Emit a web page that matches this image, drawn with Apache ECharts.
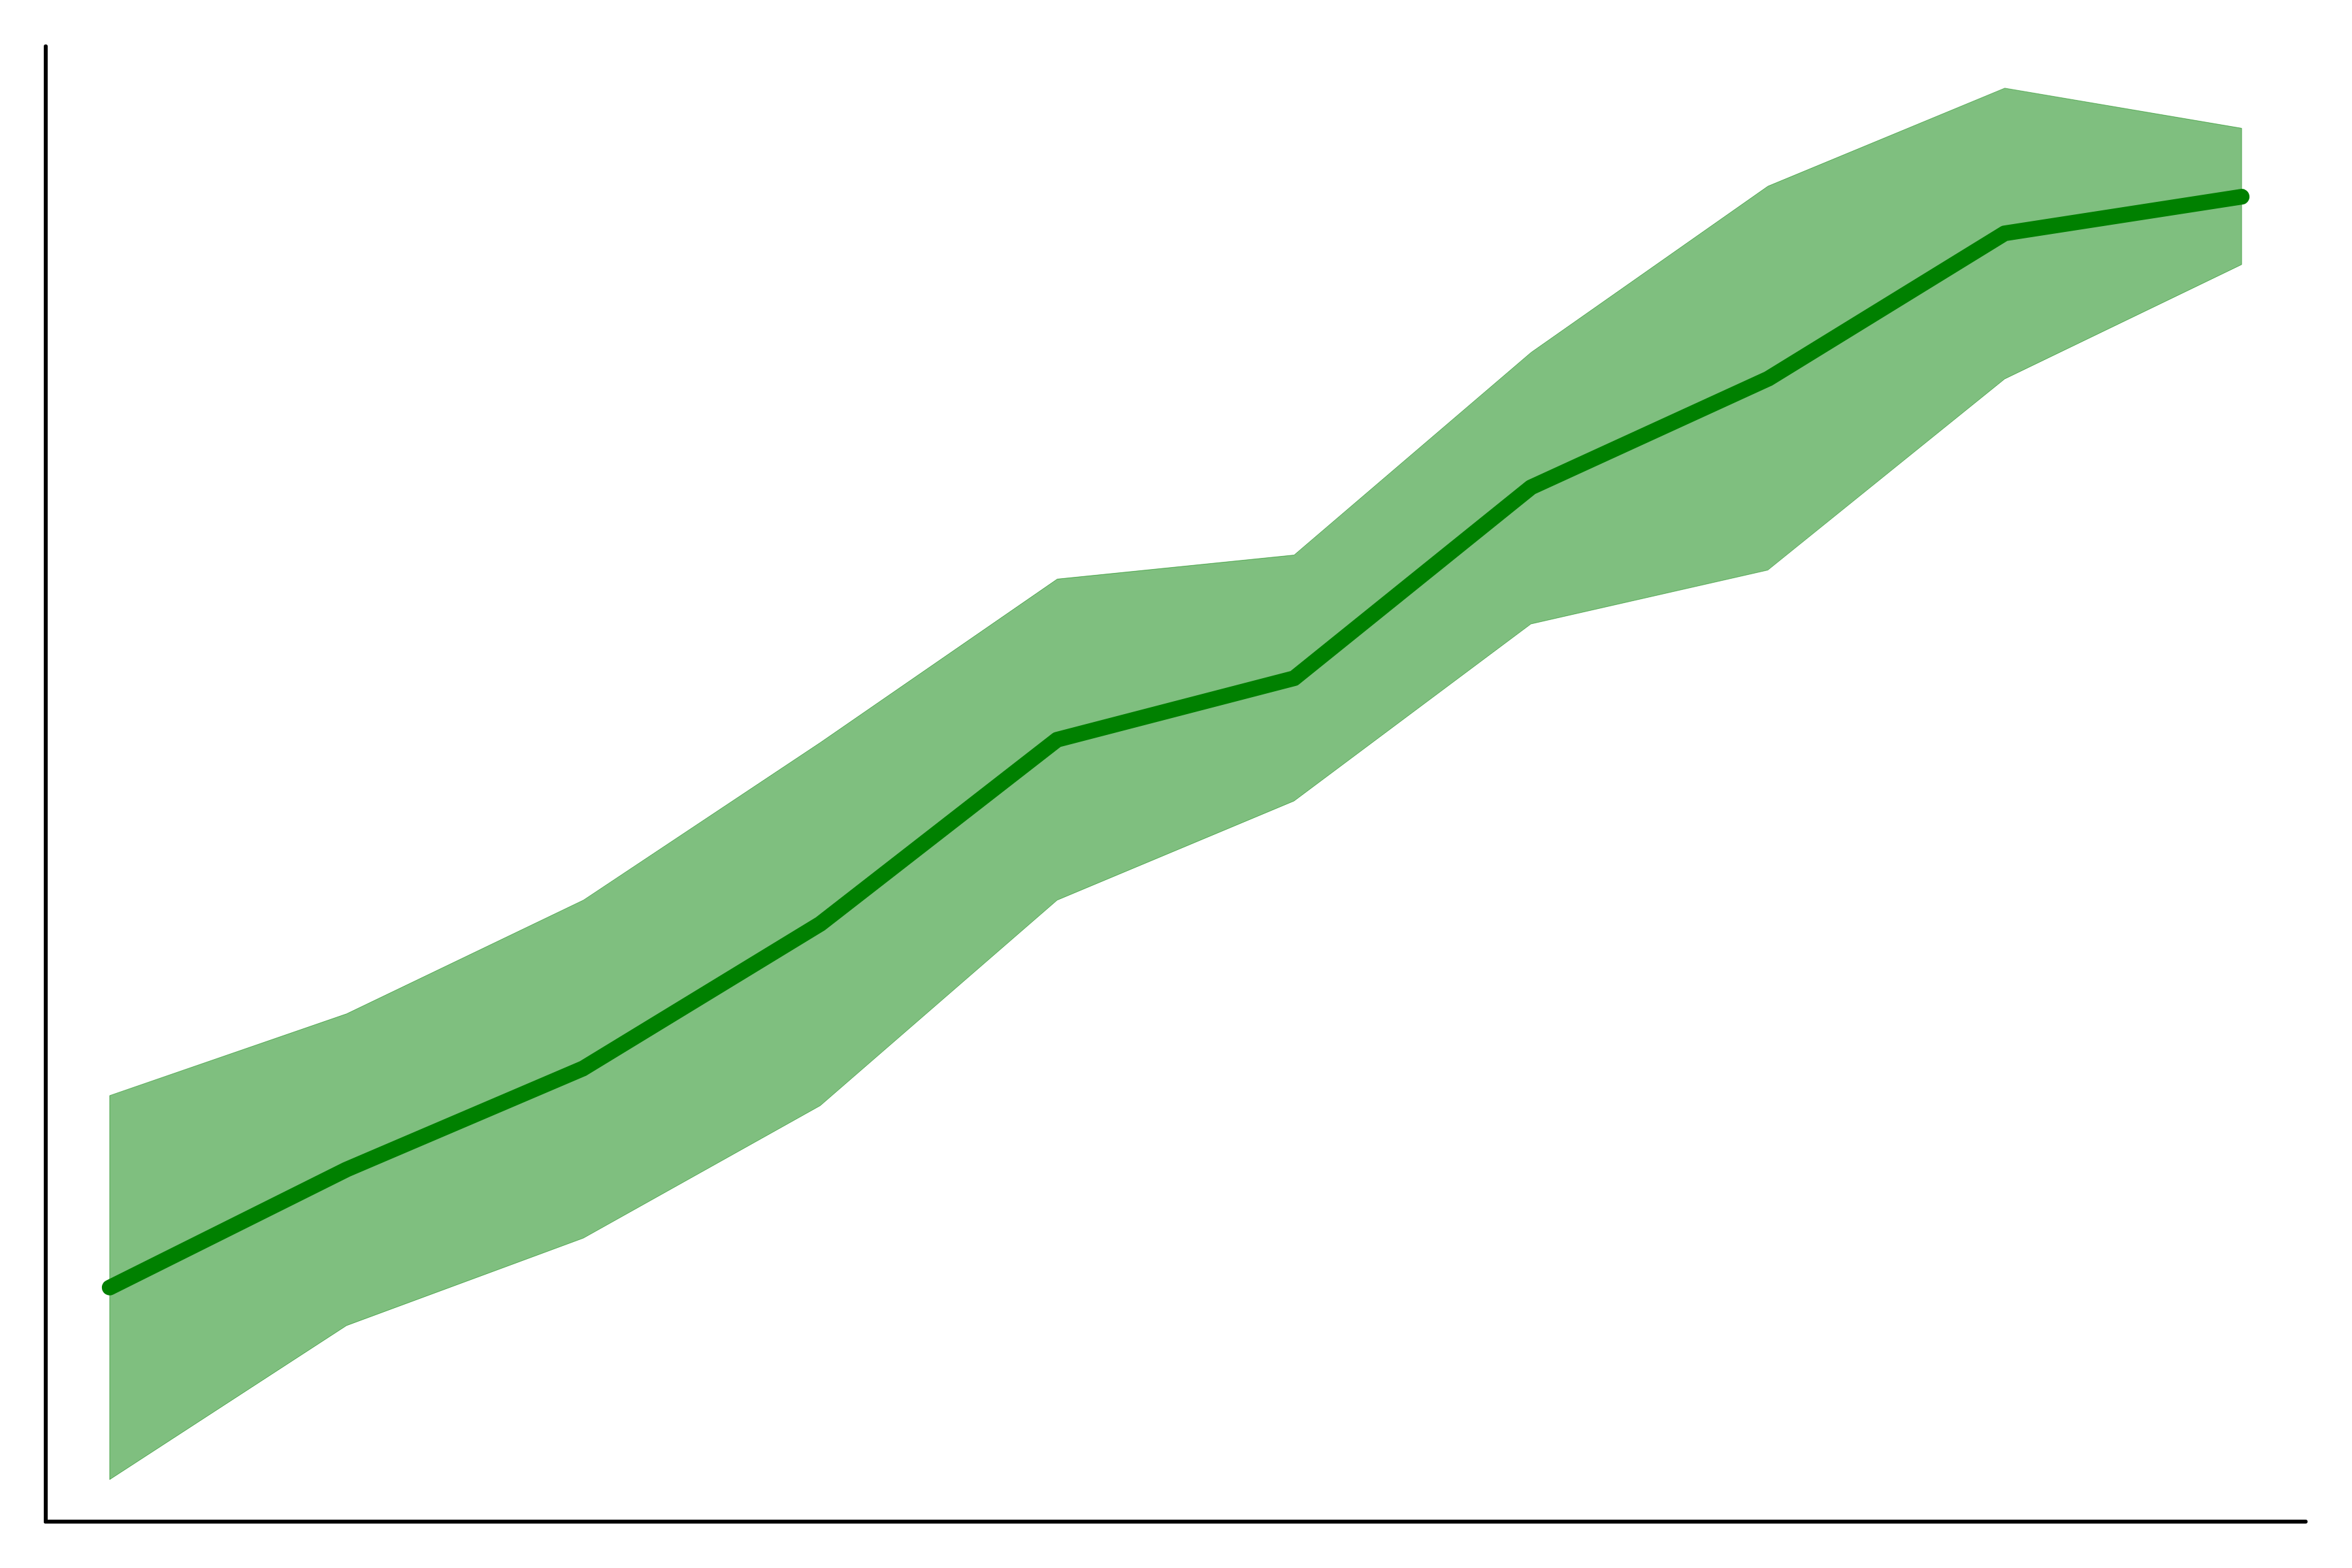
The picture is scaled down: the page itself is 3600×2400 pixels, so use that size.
<!DOCTYPE html>
<html>
<head>
<meta charset="utf-8">
<script src="https://cdn.jsdelivr.net/npm/echarts@6/dist/echarts.min.js"></script>
<style>
html,body{margin:0;padding:0;background:#fff;}
#chart{width:3600px;height:2400px;}
</style>
</head>
<body>
<div id="chart"></div>
<script>
const xs = [0, 1, 2, 3, 4, 5, 6, 7, 8, 9];
const mean  = [15.87, 23.87, 30.73, 40.52, 53.01, 57.17, 70.11, 77.46, 87.33, 89.81];
const upper = [28.88, 34.42, 42.13, 52.81, 63.89, 65.52, 79.25, 90.52, 97.17, 94.45];
const lower = [2.85, 13.29, 19.22, 28.20, 42.13, 48.85, 60.85, 64.50, 77.46, 85.21];

const chart = echarts.init(document.getElementById('chart'));
const axisLineStyle = {color: '#000', width: 6, cap: 'round'};
chart.setOption({
  animation: false,
  backgroundColor: '#fff',
  grid: {left: 70, right: 71, top: 71, bottom: 71, containLabel: false},
  xAxis: {
    type: 'value', min: -0.27, max: 9.27,
    axisLine: {show: true, onZero: false, lineStyle: axisLineStyle},
    axisTick: {show: false}, axisLabel: {show: false}, splitLine: {show: false}
  },
  yAxis: {
    type: 'value', min: 0, max: 100,
    axisLine: {show: true, onZero: false, lineStyle: axisLineStyle},
    axisTick: {show: false}, axisLabel: {show: false}, splitLine: {show: false}
  },
  series: [
    {
      type: 'custom', silent: true, z: 1,
      data: xs.map((x, i) => [x, lower[i], upper[i]]),
      encode: {x: 0, y: [1, 2]},
      renderItem: function (params, api) {
        if (params.dataIndex !== 0) return null;
        const pts = [];
        for (let i = 0; i < xs.length; i++) pts.push(api.coord([xs[i], upper[i]]));
        for (let i = xs.length - 1; i >= 0; i--) pts.push(api.coord([xs[i], lower[i]]));
        return {
          type: 'polygon',
          shape: {points: pts},
          style: {fill: 'rgba(0,128,0,0.5)', stroke: 'rgba(0,128,0,0.5)', lineWidth: 1}
        };
      }
    },
    {
      type: 'line', showSymbol: false, silent: true, z: 3,
      data: xs.map((x, i) => [x, mean[i]]),
      lineStyle: {color: '#008000', width: 24, cap: 'round', join: 'round'}
    }
  ]
});
</script>
</body>
</html>
